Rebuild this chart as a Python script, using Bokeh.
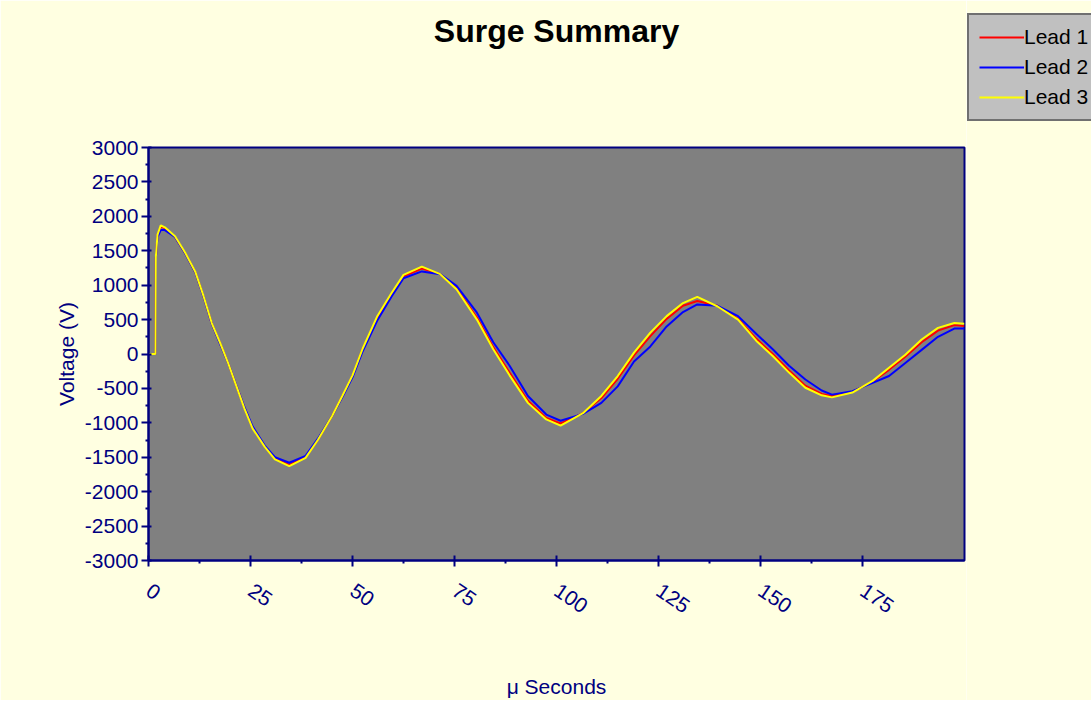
from bokeh.plotting import figure
from bokeh.models import FixedTicker, Legend, LegendItem, Range1d, Title
from bokeh.layouts import row
from bokeh.embed import file_html
from bokeh.resources import INLINE

# ---- data ----
t_us = [0, 1.7, 1.8, 2.2, 3, 4, 6.5, 9, 11.5, 13.5, 15.5, 17.5, 19.5, 21.5, 23.5, 25.5,
        28.5, 31, 34.5, 38.5, 41.5, 45, 47.5, 50, 52.5, 56, 59.5, 62.5, 67, 71.5, 75.5,
        80.5, 84.5, 88.5, 93, 97.5, 101, 106.5, 111, 115, 119, 123, 127, 131, 134.5, 139.5,
        144.5, 149, 153, 157, 161, 165, 167.5, 172.5, 177.5, 181.5, 185.5, 189.5, 193.5, 197.5, 200]

lead1 = [0, 0, 1400, 1720, 1850, 1830,
         1700, 1465, 1185, 835, 445,
         160, -130, -455, -780, -1070,
         -1345, -1520, -1610, -1500, -1245,
         -900, -615, -320, 70, 520,
         860, 1130, 1240, 1160, 950,
         530, 100, -270, -680, -930,
         -1010, -860, -640, -360, -20,
         260, 510, 700, 770, 700,
         510, 220, 0, -240, -460,
         -580, -610, -550, -400, -230,
         -40, 170, 340, 420, 405]

lead2 = [0, 0, 1400, 1700, 1800, 1800,
         1700, 1460, 1180, 830, 440,
         150, -130, -450, -770, -1050,
         -1330, -1500, -1580, -1480, -1230,
         -900, -630, -340, 40, 480,
         830, 1100, 1200, 1160, 990,
         600, 170, -170, -610, -880,
         -970, -870, -710, -470, -110,
         110, 400, 610, 720, 700,
         550, 290, 70, -170, -370,
         -530, -590, -540, -420, -320,
         -130, 60, 250, 370, 370]

lead3 = [0, 0, 1410, 1730, 1870, 1840,
         1710, 1470, 1190, 840, 450,
         170, -130, -460, -790, -1080,
         -1350, -1530, -1630, -1510, -1250,
         -900, -610, -310, 80, 540,
         880, 1150, 1270, 1160, 940,
         500, 70, -310, -710, -950,
         -1040, -860, -610, -320, 20,
         310, 550, 740, 830, 690,
         500, 190, -30, -270, -490,
         -600, -630, -560, -390, -200,
         -10, 210, 380, 450, 440]

series_names = ["Lead 1", "Lead 2", "Lead 3"]
series_colors = ["#FF0000", "#0000FF", "#FFFF00"]
series_values = [lead1, lead2, lead3]

x_ticks = [0, 25, 50, 75, 100, 125, 150, 175]
x_minor_ticks = [12.5, 37.5, 62.5, 87.5, 112.5, 137.5, 162.5]
y_ticks = [-3000, -2500, -2000, -1500, -1000, -500, 0, 500, 1000, 1500, 2000, 2500, 3000]
y_tick_labels = ["-3000", "-2500", "-2000", "-1500", "-1000", "-500", "0",
                 "500", "1000", "1500", "2000", "2500", "3000"]
y_minor_ticks = [-2750, -2250, -1750, -1250, -750, -250, 250, 750, 1250, 1750, 2250, 2750]

NAVY = "#000080"
BG = "#FFFFE1"
FONT = "Liberation Sans"
H = 700

p = figure(width=966, height=H, output_backend="svg", toolbar_location=None,
           x_range=Range1d(0, 200), y_range=Range1d(-3000, 3000),
           min_border_left=148, min_border_right=2, min_border_top=147, min_border_bottom=H - 147 - 415,
           background_fill_color="#808080", border_fill_color=BG,
           title="Surge Summary")

p.title.text_font = FONT
p.title.text_font_size = "32px"
p.title.text_font_style = "bold"
p.title.text_color = "#000000"
p.title.align = "center"
p.title.standoff = 0

# empty spacer title between the real title and the frame, pushes the title up
spacer = Title(text=" ", text_font_size="12px", standoff=83, text_color=BG)
p.add_layout(spacer, "above")

p.outline_line_color = NAVY
p.outline_line_width = 2
p.grid.visible = False

p.xaxis.ticker = FixedTicker(ticks=x_ticks, minor_ticks=x_minor_ticks)
p.yaxis.ticker = FixedTicker(ticks=y_ticks, minor_ticks=y_minor_ticks)
p.yaxis.major_label_overrides = {v: s for v, s in zip(y_ticks, y_tick_labels)}

for ax in (p.xaxis, p.yaxis):
    ax.axis_line_color = NAVY
    ax.axis_line_width = 2
    ax.major_tick_line_color = NAVY
    ax.major_tick_line_width = 2
    ax.minor_tick_line_color = NAVY
    ax.minor_tick_line_width = 2
    ax.major_label_text_font = FONT
    ax.major_label_text_font_size = "21px"
    ax.major_label_text_color = NAVY
    ax.axis_label_text_font = FONT
    ax.axis_label_text_font_size = "21px"
    ax.axis_label_text_font_style = "normal"
    ax.axis_label_text_color = NAVY

p.xaxis.major_tick_in = 5
p.xaxis.major_tick_out = 6
p.xaxis.minor_tick_in = 0
p.xaxis.minor_tick_out = 3
p.xaxis.major_label_orientation = -0.6
p.xaxis.major_label_standoff = 22
p.xaxis.axis_label = "μ Seconds"
p.xaxis.axis_label_standoff = 52

p.yaxis.major_tick_in = 3
p.yaxis.major_tick_out = 7
p.yaxis.minor_tick_in = 0
p.yaxis.minor_tick_out = 3
p.yaxis.major_label_standoff = 3
p.yaxis.axis_label = "Voltage (V)"
p.yaxis.axis_label_standoff = 4

for vals, col in zip(series_values, series_colors):
    p.line(t_us, vals, line_color=col, line_width=2)

# legend panel to the right of the plot; its lines lie outside its (empty) view
leg = figure(width=125, height=H, output_backend="svg", toolbar_location=None,
             x_range=Range1d(-20, -10), y_range=Range1d(0, 1),
             min_border_left=0, min_border_right=0, min_border_top=12, min_border_bottom=0,
             background_fill_color=BG, border_fill_color=BG, outline_line_color=None)
leg.frame_align = False
leg.xaxis.visible = False
leg.yaxis.visible = False
leg.grid.visible = False
leg_renderers = [leg.line(t_us, vals, line_color=c, line_width=2)
                 for vals, c in zip(series_values, series_colors)]

legend = Legend(items=[LegendItem(label=n, renderers=[r]) for n, r in zip(series_names, leg_renderers)],
                location="top_left", orientation="vertical",
                background_fill_color="#C0C0C0", background_fill_alpha=1.0,
                border_line_color="#202020", border_line_width=2,
                label_text_font=FONT, label_text_font_size="21px", label_text_color="#000000",
                glyph_width=45, glyph_height=24, label_height=24, label_standoff=0,
                spacing=6, padding=10, margin=1)
leg.add_layout(legend, "center")

layout = row(p, leg, spacing=0)
open("out.html", "w").write(file_html(layout, INLINE))
